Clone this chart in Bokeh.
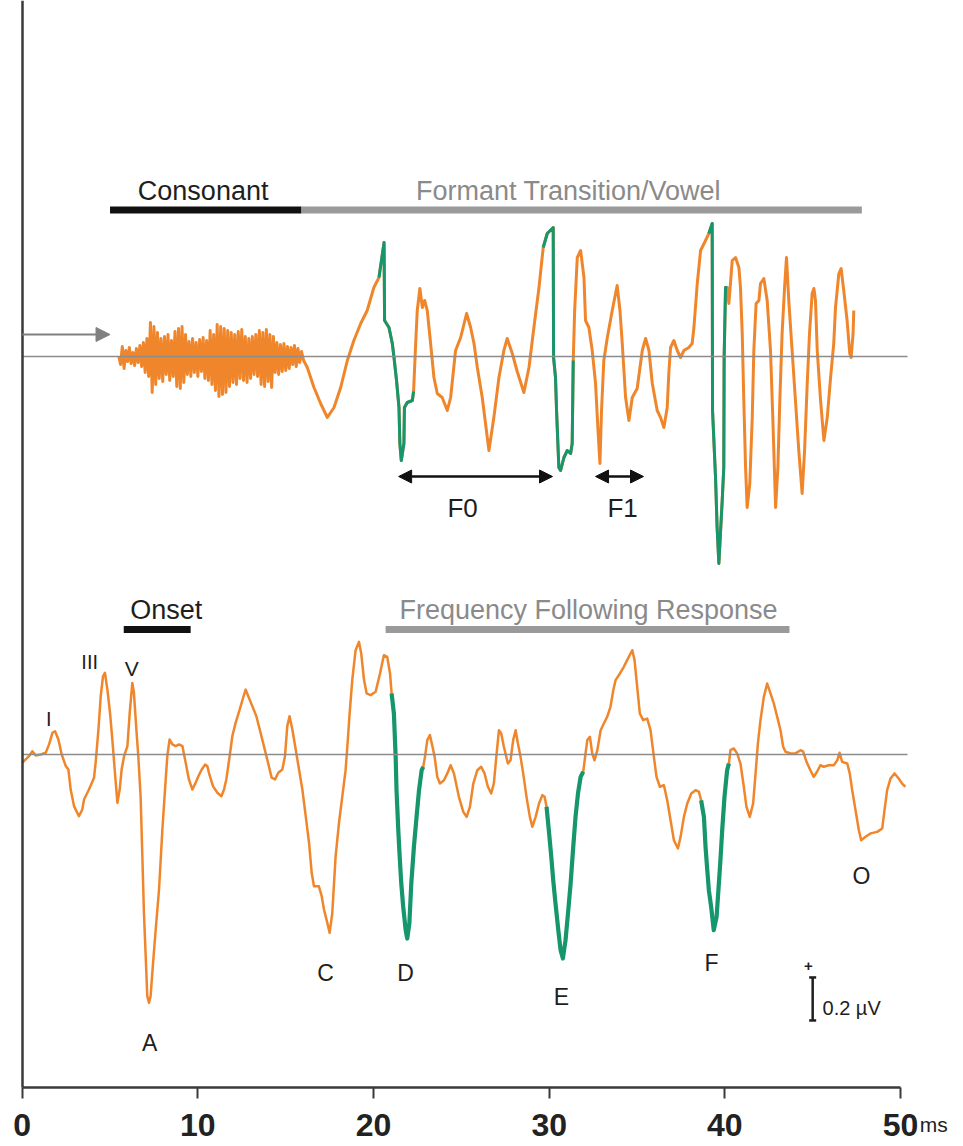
import numpy as np
from bokeh.plotting import figure
from bokeh.models import Range1d, Arrow, NormalHead, FixedTicker
from bokeh.core.properties import value
from bokeh.embed import file_html
from bokeh.resources import INLINE

# ---------------- data ----------------
tick_values = [0, 10, 20, 30, 40, 50]
tick_labels = ["0", "10", "20", "30", "40", "50"]
x_unit = "ms"

# stimulus (arbitrary units), consonant burst sampled every 0.1 ms from 5.5 ms
burst_start_ms = 5.5
burst_step_ms = 0.1
stim_burst = [0, -8, 10, -12, 6, -5, 9, -7, 4, -9, 8, -6, 11, -10,
              14, -16, 18, -20,
              34, -36, 30, -28, 24,
              -22, 18, -25, 20, -18, 22, -24, 16, -20, 25,
              -30, 28, -32, 30, -26, 22,
              -18, 15, -20, 18, -16, 14, -20, 17, -15, 19, -22, 16,
              -24, 26, -28, 22,
              -34, 32, -40, 30, -38, 28, -36, 26, -30,
              24, -26, 22, -28, 25, -22, 27, -24, 20, -26,
              18, -22, 20, -18, 22, -20,
              26, -28, 24, -30, 27, -25, 22, -31, 20,
              -16, 14, -18, 12, -15, 13, -14,
              10, -12, 9, -8, 11, -10, 8, -6, 5]

stim_t = [16.02, 16.23, 16.61, 16.99, 17.37, 17.75, 18.13, 18.51, 18.88, 19.27,
          19.64, 20.02, 20.31, 20.60, 20.63, 20.88, 21.07, 21.16, 21.31, 21.45,
          21.50, 21.58, 21.73, 21.76, 21.92, 22.21, 22.28, 22.40, 22.49, 22.64,
          22.78, 22.91, 23.06, 23.25, 23.44, 23.63, 23.91, 24.20, 24.39, 24.67,
          24.96, 25.30, 25.53, 25.72, 25.91, 26.19, 26.57, 26.85, 27.14, 27.42,
          27.61, 27.90, 28.18, 28.56, 28.85, 29.13, 29.42, 29.66, 29.89, 30.23,
          30.25, 30.36, 30.42, 30.55, 30.65, 30.84, 31.03, 31.22, 31.31, 31.37,
          31.45, 31.60, 31.79, 31.98, 32.07, 32.26, 32.45, 32.64, 32.77, 32.89,
          32.98, 33.11, 33.31, 33.59, 33.87, 34.03, 34.16, 34.35, 34.54, 34.73,
          35.01, 35.30, 35.49, 35.68, 35.87, 36.15, 36.34, 36.53, 36.72, 36.81,
          36.91, 37.10, 37.29, 37.48, 37.67, 37.95, 38.14, 38.24, 38.43, 38.62,
          38.90, 39.09, 39.28, 39.30, 39.47, 39.56, 39.66, 39.75, 39.85, 39.94,
          39.96, 40.04, 40.13, 40.23, 40.32, 40.42, 40.61, 40.80, 40.89, 40.99,
          41.08, 41.18, 41.27, 41.42, 41.56, 41.65, 41.78, 41.94, 42.03, 42.22,
          42.41, 42.60, 42.73, 42.89, 43.02, 43.13, 43.26, 43.40, 43.51, 43.64,
          43.83, 44.02, 44.21, 44.40, 44.54, 44.69, 44.82, 44.97, 45.07, 45.16,
          45.26, 45.45, 45.64, 45.83, 46.02, 46.20, 46.30, 46.49, 46.62, 46.77,
          46.96, 47.11, 47.19, 47.30, 47.34]
stim_v = [-4, -11, -31, -47, -61, -51, -31, -4, 16, 33,
          46, 69, 79, 114, 36, 29, 13, 0, -24, -51,
          -87, -104, -87, -51, -46, -44, -35, 13, 46, 68,
          49, 56, 46, 13, -21, -37, -41, -54, -41, 6,
          19, 43, 29, 13, -11, -41, -94, -61, -21, 6,
          18, 3, -15, -36, -11, 29, 69, 109, 123, 129,
          -1, -21, -54, -111, -114, -101, -94, -97, -87, -4,
          46, 99, 106, 79, 36, 29, 6, -27, -71, -107,
          -54, -4, 19, 46, 71, 46, 13, -41, -64, -41,
          -32, 6, 18, 6, -27, -54, -61, -71, -51, -17,
          9, 16, 6, -1, 6, 9, 13, 29, 73, 106,
          116, 123, 133, -54, -121, -171, -207, -177, -144, -111,
          -1, 69, 69, 53, 73, 96, 99, 89, 69, 23,
          -44, -111, -151, -127, -61, 6, 53, 56, 73, 78,
          56, 6, -61, -151, -111, -44, 23, 69, 99, 56,
          6, -44, -94, -137, -94, -27, 23, 63, 68, 56,
          6, -44, -84, -61, -21, 13, 49, 83, 88, 66,
          36, 3, -1, 23, 46]
stim_green_windows = [(20.31, 22.28), (29.66, 31.37), (39.09, 40.13)]

# response (microvolts)
resp_t = [0.00, 0.39, 0.58, 0.77, 1.05, 1.34, 1.53, 1.72, 1.87, 2.06,
          2.25, 2.48, 2.63, 2.76, 2.95, 3.23, 3.42, 3.52, 3.80, 4.09,
          4.18, 4.34, 4.47, 4.60, 4.71, 4.85, 5.00, 5.13, 5.28, 5.42,
          5.55, 5.66, 5.80, 5.99, 6.12, 6.27, 6.36, 6.50, 6.61, 6.74,
          6.84, 6.93, 7.03, 7.12, 7.22, 7.31, 7.45, 7.60, 7.79, 7.98,
          8.13, 8.26, 8.39, 8.55, 8.74, 8.93, 9.12, 9.31, 9.49, 9.69,
          9.87, 10.03, 10.22, 10.41, 10.54, 10.63, 10.86, 11.11, 11.34, 11.49,
          11.62, 11.81, 11.96, 12.15, 12.38, 12.63, 12.72, 12.87, 13.10, 13.33,
          13.57, 13.76, 13.95, 14.20, 14.39, 14.58, 14.81, 14.96, 15.09, 15.22,
          15.38, 15.57, 15.76, 15.95, 16.14, 16.33, 16.48, 16.61, 16.89, 17.05,
          17.18, 17.37, 17.50, 17.65, 17.84, 18.03, 18.22, 18.41, 18.51, 18.64,
          18.79, 18.98, 19.17, 19.30, 19.46, 19.61, 19.83, 20.12, 20.37, 20.59,
          20.78, 20.94, 21.03, 21.16, 21.26, 21.31, 21.41, 21.49, 21.58, 21.69,
          21.83, 21.92, 22.04, 22.15, 22.30, 22.45, 22.59, 22.74, 22.83, 22.93,
          23.06, 23.21, 23.34, 23.48, 23.63, 23.78, 24.01, 24.20, 24.39, 24.58,
          24.86, 25.11, 25.30, 25.49, 25.68, 25.91, 26.13, 26.32, 26.51, 26.70,
          26.85, 26.99, 27.14, 27.27, 27.42, 27.65, 27.80, 27.95, 28.09, 28.22,
          28.37, 28.52, 28.71, 28.90, 29.04, 29.23, 29.42, 29.61, 29.74, 29.85,
          29.98, 30.12, 30.23, 30.36, 30.52, 30.65, 30.78, 30.93, 31.07, 31.22,
          31.37, 31.50, 31.64, 31.79, 31.94, 32.07, 32.17, 32.32, 32.45, 32.58,
          32.74, 32.93, 33.11, 33.30, 33.49, 33.65, 33.78, 34.03, 34.25, 34.44,
          34.73, 34.86, 35.01, 35.16, 35.35, 35.58, 35.77, 35.96, 36.11, 36.30,
          36.53, 36.72, 36.91, 37.10, 37.33, 37.48, 37.67, 37.86, 38.09, 38.33,
          38.52, 38.65, 38.81, 38.90, 39.00, 39.09, 39.22, 39.37, 39.53, 39.66,
          39.76, 39.85, 39.98, 40.13, 40.23, 40.32, 40.51, 40.70, 40.89, 41.08,
          41.23, 41.42, 41.61, 41.75, 41.88, 42.03, 42.22, 42.41, 42.60, 42.79,
          42.98, 43.17, 43.32, 43.45, 43.74, 44.02, 44.31, 44.46, 44.65, 44.87,
          45.06, 45.25, 45.44, 45.63, 45.92, 46.20, 46.40, 46.53, 46.68, 46.97,
          47.11, 47.25, 47.44, 47.63, 47.76, 48.01, 48.29, 48.67, 48.96, 49.09,
          49.24, 49.43, 49.66, 49.90, 50.09, 50.28]
resp_uv = [-0.039, -0.008, 0.015, -0.005, 0.0, 0.008, 0.047, 0.101, 0.108, 0.070,
           0.0, -0.054, -0.070, -0.163, -0.240, -0.287, -0.256, -0.209, -0.163, -0.108,
           -0.039, 0.116, 0.271, 0.364, 0.380, 0.302, 0.194, 0.070, -0.085, -0.225,
           -0.163, -0.070, -0.008, 0.039, 0.194, 0.333, 0.287, 0.116, -0.008, -0.194,
           -0.473, -0.736, -0.938, -1.124, -1.155, -1.124, -0.969, -0.814, -0.628, -0.349,
           -0.163, -0.008, 0.070, 0.047, 0.039, 0.047, 0.039, -0.039, -0.116, -0.163,
           -0.132, -0.101, -0.070, -0.047, -0.054, -0.085, -0.147, -0.178, -0.194, -0.163,
           -0.116, -0.008, 0.085, 0.147, 0.209, 0.279, 0.302, 0.271, 0.225, 0.178,
           0.101, 0.039, -0.023, -0.108, -0.116, -0.085, -0.070, -0.008, 0.132, 0.178,
           0.116, 0.023, -0.070, -0.163, -0.287, -0.411, -0.550, -0.613, -0.613, -0.659,
           -0.721, -0.783, -0.829, -0.740, -0.476, -0.321, -0.197, -0.073, 0.036, 0.191,
           0.346, 0.485, 0.524, 0.470, 0.346, 0.284, 0.276, 0.292, 0.377, 0.462,
           0.454, 0.377, 0.284, 0.191, -0.011, -0.166, -0.352, -0.476, -0.600, -0.708,
           -0.817, -0.856, -0.786, -0.600, -0.429, -0.290, -0.166, -0.073, -0.057, -0.011,
           0.067, 0.090, 0.043, -0.011, -0.104, -0.135, -0.120, -0.088, -0.050, -0.088,
           -0.197, -0.267, -0.290, -0.243, -0.135, -0.073, -0.057, -0.088, -0.150, -0.181,
           -0.135, -0.011, 0.113, 0.098, 0.036, -0.042, -0.027, 0.067, 0.113, 0.051,
           -0.011, -0.088, -0.197, -0.290, -0.336, -0.290, -0.228, -0.189, -0.197, -0.243,
           -0.352, -0.476, -0.585, -0.693, -0.817, -0.910, -0.949, -0.864, -0.740, -0.600,
           -0.429, -0.290, -0.181, -0.104, -0.080, 0.005, 0.067, 0.082, 0.005, -0.027,
           0.020, 0.113, 0.144, 0.175, 0.222, 0.299, 0.346, 0.377, 0.408, 0.439,
           0.485, 0.439, 0.315, 0.191, 0.160, 0.167, 0.113, -0.011, -0.104, -0.150,
           -0.143, -0.213, -0.306, -0.399, -0.437, -0.383, -0.290, -0.228, -0.181, -0.166,
           -0.173, -0.213, -0.290, -0.429, -0.538, -0.631, -0.708, -0.817, -0.755, -0.600,
           -0.476, -0.352, -0.197, -0.073, -0.042, 0.020, 0.028, 0.005, -0.042, -0.150,
           -0.243, -0.290, -0.228, -0.088, 0.051, 0.160, 0.268, 0.330, 0.284, 0.237,
           0.175, 0.113, 0.036, 0.013, 0.005, 0.005, 0.020, 0.013, -0.034, -0.073,
           -0.104, -0.080, -0.050, -0.057, -0.050, -0.050, -0.027, 0.008, -0.034, -0.042,
           -0.088, -0.166, -0.259, -0.352, -0.399, -0.383, -0.367, -0.360, -0.344, -0.259,
           -0.166, -0.112, -0.088, -0.112, -0.135, -0.150]
resp_green_windows = [(21.03, 22.83), (29.85, 31.94), (38.65, 40.23)]

# time segments (ms)
stim_seg_names = ["Consonant", "Formant Transition/Vowel"]
stim_seg_start = [5.0, 15.9]
stim_seg_end = [15.9, 47.8]
resp_seg_names = ["Onset", "Frequency Following Response"]
resp_seg_start = [5.78, 20.69]
resp_seg_end = [9.59, 43.68]

# periods marked on stimulus
period_names = ["F0", "F1"]
period_start = [21.43, 32.64]
period_end = [30.19, 35.37]

# response peak labels
peak_names = ["I", "III", "V", "A", "C", "D", "E", "F", "O"]
peak_label_t = [1.51, 3.84, 6.23, 7.26, 17.27, 21.83, 30.70, 39.24, 47.78]
peak_label_uv = [0.163, 0.428, 0.400, -1.344, -1.014, -1.014, -1.126, -0.972, -0.567]

scale_bar_uv = 0.2

# ---------------- styling ----------------
ORANGE = "#F0862B"
GREEN = "#16966C"
BASE = "#8C8C8C"
INK = "#1E1E1E"
GREYTXT = "#8A8A8A"
GREYBAR = "#9A9A9A"
AXIS = "#3A3A3A"
FONT = "Liberation Sans"

W, H = 963, 1146
PX_PER_MS = 17.566
X0 = 21.7            # pixel of t = 0
STIM_BASE_PX = 356   # pixel row of stimulus baseline (1 a.u. = 1 px)
RESP_BASE_PX = 754   # pixel row of response baseline
PX_PER_UV = 215
AXIS_PX = 1087

x_range = Range1d(-X0 / PX_PER_MS, (W - X0) / PX_PER_MS)
y_range = Range1d(STIM_BASE_PX - H, STIM_BASE_PX)
resp_range = Range1d((RESP_BASE_PX - H) / PX_PER_UV, RESP_BASE_PX / PX_PER_UV)

p = figure(width=W, height=H, output_backend="svg", toolbar_location=None,
           x_range=x_range, y_range=y_range,
           min_border_left=0, min_border_right=0, min_border_top=0,
           min_border_bottom=0)
p.extra_y_ranges = {"resp": resp_range}
p.xgrid.visible = False
p.ygrid.visible = False
p.outline_line_color = None
p.background_fill_color = "white"
p.border_fill_color = "white"

axis_y = STIM_BASE_PX - AXIS_PX

# axes (fixed inside the frame)
p.xaxis.fixed_location = axis_y
p.xaxis.ticker = FixedTicker(ticks=tick_values)
p.xaxis.major_label_overrides = dict(zip(tick_values, tick_labels))
p.xaxis.bounds = (tick_values[0], tick_values[-1])
p.xaxis.major_label_text_font = FONT
p.xaxis.major_label_text_font_size = "32px"
p.xaxis.major_label_text_font_style = "bold"
p.xaxis.major_label_text_color = "#222222"
p.xaxis.major_label_standoff = 15
p.xaxis.major_tick_out = 11
p.xaxis.major_tick_in = 0
p.xaxis.major_tick_line_width = 2
p.xaxis.major_tick_line_color = AXIS
p.xaxis.minor_tick_line_color = None
p.xaxis.axis_line_width = 2.5
p.xaxis.axis_line_color = AXIS

p.yaxis.fixed_location = 0
p.yaxis.ticker = FixedTicker(ticks=[])
p.yaxis.bounds = (axis_y, STIM_BASE_PX)
p.yaxis.major_tick_line_color = None
p.yaxis.minor_tick_line_color = None
p.yaxis.axis_line_width = 2.5
p.yaxis.axis_line_color = AXIS

# stimulus waveform
burst_t = burst_start_ms + burst_step_ms * np.arange(len(stim_burst))
st = np.concatenate([burst_t, np.array(stim_t)])
sv = np.concatenate([np.array(stim_burst, float), np.array(stim_v, float)])
p.line(st, sv, line_color=ORANGE, line_width=3, line_join="round")
for a, b in stim_green_windows:
    m = (st >= a - 1e-6) & (st <= b + 1e-6)
    p.line(st[m], sv[m], line_color=GREEN, line_width=3, line_join="round")

# response waveform
rt = np.array(resp_t)
rv = np.array(resp_uv)
p.line(rt, rv, y_range_name="resp", line_color=ORANGE, line_width=2.5, line_join="round")
for a, b in resp_green_windows:
    m = (rt >= a - 1e-6) & (rt <= b + 1e-6)
    p.line(rt[m], rv[m], y_range_name="resp", line_color=GREEN, line_width=4.2, line_join="round")

# baselines
p.line([0, 50.4], [0, 0], line_color=BASE, line_width=1.5)
p.line([0, 50.4], [0, 0], y_range_name="resp", line_color=BASE, line_width=1.5)

# segment bars and titles (stimulus)
p.segment(x0=stim_seg_start, y0=[146.5] * 2, x1=stim_seg_end, y1=[146.5] * 2,
          line_color=["#111111", GREYBAR], line_width=7)
p.text(x=[10.3, 31.1], y=[166, 166], text=stim_seg_names,
       text_color=[INK, GREYTXT], text_font=value(FONT), text_font_size="27px",
       text_align="center", text_baseline="alphabetic")

# segment bars and titles (response)
p.segment(x0=resp_seg_start, y0=[0.581] * 2, x1=resp_seg_end, y1=[0.581] * 2,
          y_range_name="resp", line_color=["#111111", GREYBAR], line_width=7)
p.text(x=[8.2, 32.24], y=[0.670, 0.670], text=resp_seg_names, y_range_name="resp",
       text_color=[INK, GREYTXT], text_font=value(FONT), text_font_size="27px",
       text_align="center", text_baseline="alphabetic")

# stimulus onset arrow
p.add_layout(Arrow(end=NormalHead(size=14, fill_color="#808080", line_color="#808080"),
                   x_start=0, y_start=22, x_end=5.0, y_end=22,
                   line_color="#808080", line_width=2))

# F0 / F1 arrows
for a, b in zip(period_start, period_end):
    p.add_layout(Arrow(start=NormalHead(size=13, fill_color="#111111", line_color="#111111"),
                       end=NormalHead(size=13, fill_color="#111111", line_color="#111111"),
                       x_start=a, y_start=-120, x_end=b, y_end=-120,
                       line_color="#111111", line_width=2.5))
p.text(x=[25.07, 34.18], y=[-151, -151], text=period_names, text_color=INK,
       text_font=value(FONT), text_font_size="26px", text_align="center",
       text_baseline="middle")

# peak labels
p.text(x=peak_label_t, y=peak_label_uv, text=peak_names, y_range_name="resp",
       text_color=INK, text_font=value(FONT),
       text_font_size=["20px", "20px", "21px"] + ["23px"] * 6,
       text_align="center", text_baseline="middle")

# scale bar
sb_t = 45.0
sb_top = -1.037
p.segment(x0=[sb_t], y0=[sb_top], x1=[sb_t], y1=[sb_top - scale_bar_uv],
          y_range_name="resp", line_color=INK, line_width=2.5)
p.segment(x0=[sb_t - 0.2, sb_t - 0.2], y0=[sb_top, sb_top - scale_bar_uv],
          x1=[sb_t + 0.2, sb_t + 0.2], y1=[sb_top, sb_top - scale_bar_uv],
          y_range_name="resp", line_color=INK, line_width=2.5)
p.text(x=[44.76], y=[-0.986], text=["+"], y_range_name="resp", text_color=INK,
       text_font=value(FONT), text_font_size="15px", text_font_style="bold",
       text_align="center", text_baseline="middle")
p.text(x=[45.56], y=[-1.181], text=["%g µV" % scale_bar_uv], y_range_name="resp",
       text_color=INK, text_font=value(FONT), text_font_size="20px",
       text_align="left", text_baseline="middle")

# unit next to last tick label (superscript position)
p.text(x=[51.1], y=[STIM_BASE_PX - 1124], text=[x_unit], text_color="#222222",
       text_font=value(FONT), text_font_size="21px", text_align="left",
       text_baseline="middle")

open("out.html", "w").write(file_html(p, INLINE))
